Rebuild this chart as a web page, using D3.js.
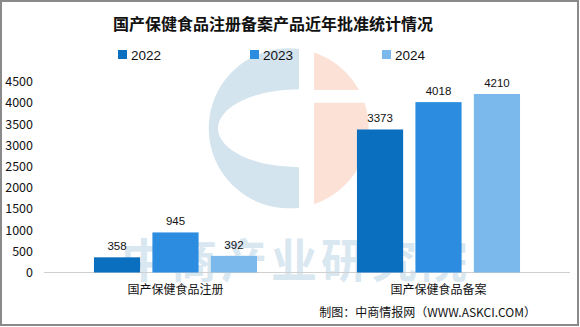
<!DOCTYPE html>
<html>
<head>
<meta charset="utf-8">
<script src="https://cdn.jsdelivr.net/npm/d3@7"></script>
<style>
  html, body { margin: 0; padding: 0; background: #fff; }
  svg { display: block; }
</style>
</head>
<body>
<svg id="chart" width="580" height="327"></svg>
<script>
// 国产保健食品注册/备案产品批准数量（2022-2024）
const categories = ["国产保健食品注册", "国产保健食品备案"];
const years = ["2022", "2023", "2024"];
const values2022 = [358, 3373];
const values2023 = [945, 4018];
const values2024 = [392, 4210];
const yTickValues = [0, 500, 1000, 1500, 2000, 2500, 3000, 3500, 4000, 4500];
const colors = ["#0a6fbf", "#2c8de0", "#7bb9ec"];

const seriesByYear = { "2022": values2022, "2023": values2023, "2024": values2024 };
const rows = categories.map((c, i) => ({
  category: c,
  bars: years.map(y => ({ year: y, value: seriesByYear[y][i] }))
}));

const W = 580, H = 327;
const svg = d3.select("#chart");
const cjk = "'Noto Sans CJK SC', 'Noto Sans', sans-serif";
const latin = "'Liberation Sans', Arial, sans-serif";

svg.append("rect").attr("width", W).attr("height", H).attr("fill", "#fff");

// watermark: logo
const logo = svg.append("g");
const cx = 288.7, cy = 128.3, r = 80;
const defs = svg.append("defs");
defs.append("clipPath").attr("id", "clipL")
  .append("rect").attr("x", 0).attr("y", 0).attr("width", 299).attr("height", H);
const clipR = defs.append("clipPath").attr("id", "clipR");
clipR.append("rect").attr("x", 314).attr("y", 0).attr("width", W).attr("height", 90);
clipR.append("rect").attr("x", 314).attr("y", 102.7).attr("width", W).attr("height", H);

const circlePath = `M${cx - r},${cy}a${r},${r} 0 1,0 ${2 * r},0a${r},${r} 0 1,0 ${-2 * r},0Z`;
const ex = 299, erx = 81, ery = 39;
const ellipsePath = `M${ex - erx},${cy}a${erx},${ery} 0 1,0 ${2 * erx},0a${erx},${ery} 0 1,0 ${-2 * erx},0Z`;
logo.append("path")
  .attr("d", circlePath + ellipsePath)
  .attr("fill-rule", "evenodd")
  .attr("fill", "#d4e4ef")
  .attr("clip-path", "url(#clipL)");
logo.append("path")
  .attr("d", circlePath)
  .attr("fill", "#fbe1d6")
  .attr("clip-path", "url(#clipR)");

// watermark: text
svg.append("text")
  .attr("x", 121).attr("y", 277)
  .attr("font-family", cjk).attr("font-weight", 700)
  .attr("font-size", 46).attr("letter-spacing", 4)
  .attr("fill", "#d9e7f1")
  .text("中商产业研究院");

// title
svg.append("text")
  .attr("x", 273).attr("y", 30)
  .attr("text-anchor", "middle")
  .attr("font-family", cjk).attr("font-weight", 700).attr("font-size", 16)
  .attr("fill", "#111")
  .text("国产保健食品注册备案产品近年批准统计情况");

// legend
const legend = svg.append("g").selectAll("g").data(years).join("g")
  .attr("transform", (d, i) => `translate(${118 + i * 132},50)`);
legend.append("rect").attr("width", 9).attr("height", 9).attr("fill", (d, i) => colors[i]);
legend.append("text")
  .attr("x", 13).attr("y", 9.5)
  .attr("font-family", latin).attr("font-size", 13.5).attr("fill", "#111")
  .text(d => d);

// scales
const plotLeft = 44, plotRight = 570, baseY = 272.5, topY = 81.7;
const y = d3.scaleLinear().domain([0, 4500]).range([baseY, topY]);
const x0 = d3.scaleBand().domain(categories).range([plotLeft, plotRight]).padding(0);
const bw = x0.bandwidth();
const x1 = d3.scaleBand().domain(years).range([bw * 0.19, bw * 0.81]).paddingInner(0.21);
const color = d3.scaleOrdinal().domain(years).range(colors);

// y axis
const yAxis = svg.append("g")
  .attr("transform", `translate(36,0)`)
  .call(d3.axisLeft(y).tickValues(yTickValues).tickSize(0).tickPadding(3).tickFormat(d3.format("d")));
yAxis.select(".domain").remove();
yAxis.selectAll("text")
  .attr("font-family", cjk).attr("font-size", 12.5).attr("fill", "#111");

// baseline
svg.append("line")
  .attr("x1", plotLeft).attr("x2", plotRight)
  .attr("y1", y(0)).attr("y2", y(0))
  .attr("stroke", "#d0d0d0").attr("stroke-width", 1);

// bars
const groups = svg.append("g").selectAll("g").data(rows).join("g")
  .attr("transform", d => `translate(${x0(d.category)},0)`);
groups.selectAll("rect").data(d => d.bars).join("rect")
  .attr("x", d => x1(d.year))
  .attr("y", d => y(d.value))
  .attr("width", x1.bandwidth())
  .attr("height", d => y(0) - y(d.value))
  .attr("fill", d => color(d.year));
groups.selectAll("text").data(d => d.bars).join("text")
  .attr("x", d => x1(d.year) + x1.bandwidth() / 2)
  .attr("y", d => y(d.value) - 7)
  .attr("text-anchor", "middle")
  .attr("font-family", latin).attr("font-size", 11.5).attr("fill", "#111")
  .text(d => d.value);

// category labels
const xAxis = svg.append("g")
  .attr("transform", `translate(0,${baseY})`)
  .call(d3.axisBottom(x0).tickSize(0).tickPadding(13));
xAxis.select(".domain").remove();
xAxis.selectAll("text")
  .attr("font-family", cjk).attr("font-size", 12).attr("fill", "#111");

// source
svg.append("text")
  .attr("x", 536).attr("y", 317)
  .attr("text-anchor", "end")
  .attr("font-family", cjk).attr("font-size", 12).attr("fill", "#111")
  .text("制图：中商情报网（WWW.ASKCI.COM）");

// frame
svg.append("rect")
  .attr("x", 1).attr("y", 1).attr("width", 577).attr("height", 324)
  .attr("fill", "none").attr("stroke", "#8a8a8a").attr("stroke-width", 2);
</script>
</body>
</html>
